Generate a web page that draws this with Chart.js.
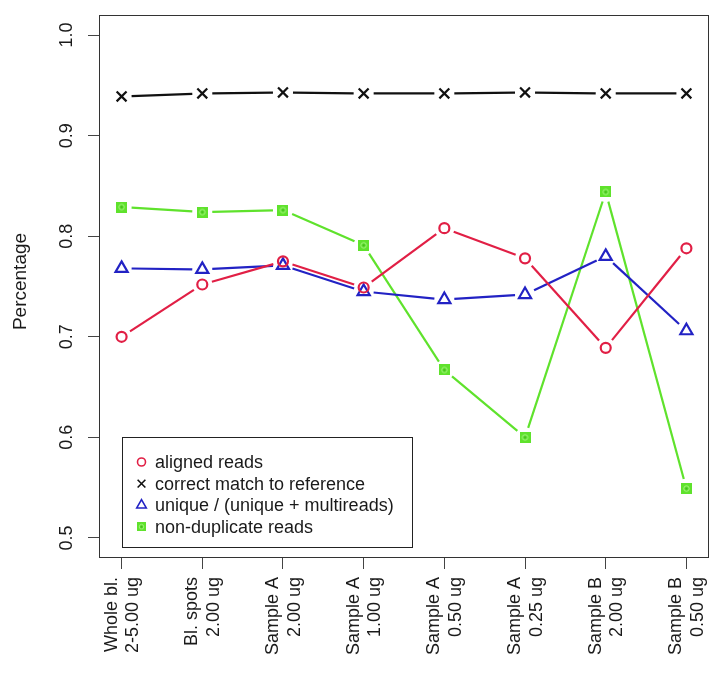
<!DOCTYPE html>
<html>
<head>
<meta charset="utf-8">
<script src="https://cdn.jsdelivr.net/npm/chart.js@4/dist/chart.umd.min.js"></script>
<style>
  html, body { margin: 0; padding: 0; background: #fff; }
</style>
</head>
<body>
<canvas id="readsChart" width="725" height="675"></canvas>
<script>
// Minták (két soros feliratok)
const samples = [
  ['Whole bl.', '2-5.00 ug'],
  ['Bl. spots', '2.00 ug'],
  ['Sample A', '2.00 ug'],
  ['Sample A', '1.00 ug'],
  ['Sample A', '0.50 ug'],
  ['Sample A', '0.25 ug'],
  ['Sample B', '2.00 ug'],
  ['Sample B', '0.50 ug']
];
const alignedReads = [0.700, 0.752, 0.775, 0.749, 0.808, 0.778, 0.689, 0.788];
const correctMatch = [0.939, 0.942, 0.943, 0.942, 0.942, 0.943, 0.942, 0.942];
const uniqueReads = [0.768, 0.767, 0.771, 0.745, 0.737, 0.742, 0.780, 0.706];
const nonDuplicateReads = [0.829, 0.824, 0.826, 0.791, 0.667, 0.600, 0.844, 0.549];
const yTicks = [0.5, 0.6, 0.7, 0.8, 0.9, 1.0];

const FONT = '"Liberation Sans", Arial, sans-serif';
const GAP = 10;

function toPoints(values) {
  return values.map((v, i) => ({ x: i + 1, y: v }));
}

// zöld négyzet jelölő
function squareMarker(size) {
  const c = document.createElement('canvas');
  c.width = size; c.height = size;
  const g = c.getContext('2d');
  g.fillStyle = '#5fe22c';
  g.fillRect(0, 0, size, size);
  g.strokeStyle = '#a8f585';
  g.lineWidth = 1;
  g.beginPath();
  g.arc(size / 2, size / 2, size / 4, 0, Math.PI * 2);
  g.stroke();
  g.fillStyle = '#3fb81a';
  g.fillRect(size / 2 - 1, size / 2 - 1, 2, 2);
  return c;
}

// R "type = b": a vonal nem ér hozzá a jelölőhöz
const gapSegment = {
  borderDash: ctx => {
    const dx = ctx.p1.x - ctx.p0.x, dy = ctx.p1.y - ctx.p0.y;
    const len = Math.sqrt(dx * dx + dy * dy);
    return len > 2 * GAP ? [len - 2 * GAP, 2 * GAP] : [0, len];
  },
  borderDashOffset: () => -GAP
};

const series = [
  { label: 'aligned reads', data: alignedReads, color: '#e11f45', style: 'circle', radius: 5, legendRadius: 4 },
  { label: 'correct match to reference', data: correctMatch, color: '#111111', style: 'crossRot', radius: 7, legendRadius: 5.5 },
  { label: 'unique / (unique + multireads)', data: uniqueReads, color: '#2222c4', style: 'triangle', radius: 7, legendRadius: 5.5 },
  { label: 'non-duplicate reads', data: nonDuplicateReads, color: '#5fe22c', style: squareMarker(11), legendStyle: squareMarker(9), radius: 5 }
];

const frameAndText = {
  id: 'frameAndText',
  afterDraw(chart) {
    const ctx = chart.ctx;
    const ca = chart.chartArea;
    const yScale = chart.scales.y;
    ctx.save();

    // keret
    ctx.strokeStyle = '#333';
    ctx.lineWidth = 1;
    ctx.strokeRect(Math.round(ca.left) + 0.5, Math.round(ca.top) + 0.5,
      Math.round(ca.width) - 1, Math.round(ca.height) - 1);

    // y feliratok
    ctx.fillStyle = '#1a1a1a';
    ctx.font = '18px ' + FONT;
    ctx.textAlign = 'center';
    ctx.textBaseline = 'middle';
    yTicks.forEach(v => {
      ctx.save();
      ctx.translate(67, yScale.getPixelForValue(v));
      ctx.rotate(-Math.PI / 2);
      ctx.fillText(v.toFixed(1), 0, 0);
      ctx.restore();
    });
    ctx.save();
    ctx.font = '19px ' + FONT;
    ctx.translate(21, (ca.top + ca.bottom) / 2 - 5);
    ctx.rotate(-Math.PI / 2);
    ctx.fillText('Percentage', 0, 0);
    ctx.restore();

    // jelmagyarázat
    const bx = 122, by = 437, bw = 290, bh = 110;
    ctx.strokeStyle = '#222';
    ctx.strokeRect(bx + 0.5, by + 0.5, bw, bh);
    ctx.font = '18px ' + FONT;
    ctx.textAlign = 'left';
    chart.data.datasets.forEach((ds, i) => {
      const s = series[i];
      const y = 462 + i * 21.6;
      const x = 141.5;
      const pstyle = s.legendStyle || ds.pointStyle;
      if (pstyle instanceof HTMLCanvasElement) {
        ctx.drawImage(pstyle, x - pstyle.width / 2, y - pstyle.height / 2);
      } else {
        ctx.strokeStyle = ds.borderColor;
        ctx.fillStyle = 'rgba(0,0,0,0)';
        ctx.lineWidth = 1.6;
        Chart.helpers.drawPoint(ctx, { pointStyle: pstyle, radius: s.legendRadius, rotation: 0, borderWidth: 1.6 }, x, y);
      }
      ctx.fillStyle = '#1a1a1a';
      ctx.fillText(ds.label, 155, y + 1);
    });
    ctx.restore();
  }
};

const data = {
  datasets: series.map(s => ({
    label: s.label,
    data: toPoints(s.data),
    borderColor: s.color,
    backgroundColor: 'rgba(0,0,0,0)',
    borderWidth: 2.2,
    pointStyle: s.style,
    pointRadius: s.radius,
    pointBorderWidth: 2.2,
    pointBorderColor: s.color,
    pointBackgroundColor: 'rgba(0,0,0,0)',
    tension: 0,
    segment: gapSegment
  }))
};

const config = {
  type: 'line',
  data,
  options: {
    responsive: false,
    animation: false,
    devicePixelRatio: 1,
    layout: { padding: { top: 15, right: 16, left: 0, bottom: 0 } },
    scales: {
      x: {
        type: 'linear',
        min: 0.72,
        max: 8.28,
        afterBuildTicks: scale => { scale.ticks = samples.map((s, i) => ({ value: i + 1 })); },
        afterFit: scale => {
          scale.height = 117;
          scale.paddingLeft = 0;
          scale.paddingRight = 0;
        },
        ticks: {
          autoSkip: false,
          minRotation: 90,
          maxRotation: 90,
          padding: 8,
          labelOffset: -10,
          color: '#1a1a1a',
          font: { family: FONT, size: 18 },
          callback: v => samples[v - 1]
        },
        grid: { drawOnChartArea: false, tickLength: 11, color: '#444' },
        border: { display: false }
      },
      y: {
        type: 'linear',
        min: 0.48,
        max: 1.02,
        afterBuildTicks: scale => { scale.ticks = yTicks.map(v => ({ value: v })); },
        afterFit: scale => { scale.width = 99; },
        ticks: { display: false },
        grid: { drawOnChartArea: false, tickLength: 11, color: '#444' },
        border: { display: false }
      }
    },
    plugins: {
      legend: { display: false },
      tooltip: { enabled: false }
    }
  },
  plugins: [frameAndText]
};

new Chart(document.getElementById('readsChart'), config);
</script>
</body>
</html>
